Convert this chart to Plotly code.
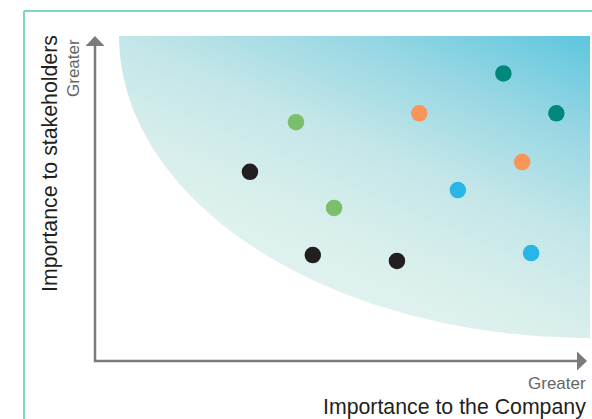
import numpy as np
import plotly.graph_objects as go

# Materiality matrix: importance to the company (x) vs importance to stakeholders (y), 0-10 scale
groups = ["Governance", "Customers", "Environment", "Operations", "Community"]
group_colors = ["#00897b", "#f7955b", "#7cbf6b", "#231f20", "#2ab5e8"]
company_scores = [
    [8.25, 9.32],
    [6.55, 8.63],
    [4.06, 4.83],
    [3.13, 4.40, 6.10],
    [7.33, 8.81],
]
stakeholder_scores = [
    [8.85, 7.62],
    [7.62, 6.12],
    [7.35, 4.71],
    [5.82, 3.26, 3.08],
    [5.26, 3.32],
]

axis_label_x = "Importance to the Company"
axis_label_y = "Importance to stakeholders"
axis_end_label = "Greater"

W, H = 592, 419
# axis scale: origin of the arrows is (0, 0); ranges chosen so the whole canvas is the plot area
XR = [-1.919, 10.040]
YR = [-1.785, 11.108]

# highlighted "material" zone: rectangle trimmed by a quarter ellipse centred on the top-right corner
zx0, zx1, zy0, zy1 = 0.485, 10.0, 0.708, 10.0
rx, ry = zx1 - zx0, zy1 - zy0

fig = go.Figure()

# diagonal gradient fill of the zone
nx, ny = 240, 152
xe = np.linspace(zx0, zx1, nx + 1)
ye = np.linspace(zy0, zy1, ny + 1)
xc = (xe[:-1] + xe[1:]) / 2
yc = (ye[:-1] + ye[1:]) / 2
U, V = np.meshgrid((xc - zx0) / rx, (yc - zy0) / ry)
T = 0.4 * U + 0.6 * V
fig.add_trace(go.Heatmap(
    x=xe, y=ye, z=T, zmin=0, zmax=1, zsmooth="best",
    colorscale=[[0, "#eff8f4"], [0.4, "#d9efec"], [0.6, "#c3e6e8"],
                [0.8, "#97d7e3"], [1, "#5ec6df"]],
    showscale=False, hoverinfo="skip",
))

# white mask outside the elliptical edge of the zone
th = np.linspace(np.pi, 1.5 * np.pi, 200)
ax_ = zx1 + rx * np.cos(th)
ay_ = zy1 + ry * np.sin(th)
mask_x = list(ax_) + [zx1 + 0.05, zx1 + 0.05, zx0 - 0.1, zx0 - 0.1]
mask_y = list(ay_) + [zy0, zy0 - 0.1, zy0 - 0.1, zy1 + 0.05]
fig.add_trace(go.Scatter(
    x=mask_x, y=mask_y, mode="lines", fill="toself", fillcolor="white",
    line=dict(width=0, color="white"), hoverinfo="skip", showlegend=False,
))

for name, col, xs, ys in zip(groups, group_colors, company_scores, stakeholder_scores):
    fig.add_trace(go.Scatter(
        x=xs, y=ys, mode="markers", name=name,
        marker=dict(size=16.5, color=col, line=dict(width=0)),
        showlegend=False,
    ))

axis_col = "#7b7b7b"
px_x = (XR[1] - XR[0]) / W
px_y = (YR[1] - YR[0]) / H
x_tip, y_tip = 10.0 - 3 * px_x, 10.0
head_len_x, head_half_x = 10 * px_x, 9.5 * px_y
head_len_y, head_half_y = 10 * px_y, 9.5 * px_x

shapes = [
    # frame
    dict(type="line", xref="paper", yref="paper", x0=24 / W, x1=1.01, y0=1 - 11 / H, y1=1 - 11 / H,
         line=dict(color="#7dd8b8", width=2)),
    dict(type="line", xref="paper", yref="paper", x0=24 / W, x1=24 / W, y0=1 - 11 / H, y1=-0.01,
         line=dict(color="#7dd8b8", width=2)),
    # axes
    dict(type="line", x0=0, x1=x_tip - head_len_x + px_x, y0=0, y1=0,
         line=dict(color=axis_col, width=2.5), layer="above"),
    dict(type="line", x0=0, x1=0, y0=0 - 1.2 * px_y, y1=y_tip - head_len_y + px_y,
         line=dict(color=axis_col, width=2.5), layer="above"),
    dict(type="path", layer="above", fillcolor=axis_col, line=dict(width=0),
         path=f"M {x_tip} 0 L {x_tip - head_len_x} {head_half_x} L {x_tip - head_len_x} {-head_half_x} Z"),
    dict(type="path", layer="above", fillcolor=axis_col, line=dict(width=0),
         path=f"M 0 {y_tip} L {head_half_y} {y_tip - head_len_y} L {-head_half_y} {y_tip - head_len_y} Z"),
]

font = "Liberation Sans, Arial, Helvetica, sans-serif"
annotations = [
    dict(xref="paper", yref="paper", x=588 / W, y=1 - 407 / H, text=axis_label_x,
         showarrow=False, xanchor="right", yanchor="middle",
         font=dict(family=font, size=21.3, color="#231f20")),
    dict(xref="paper", yref="paper", x=588 / W, y=1 - 383 / H, text=axis_end_label,
         showarrow=False, xanchor="right", yanchor="middle",
         font=dict(family=font, size=17, color="#666666")),
    dict(xref="paper", yref="paper", x=49.5 / W, y=1 - 33 / H, text=axis_label_y,
         showarrow=False, xanchor="center", yanchor="top", textangle=-90,
         font=dict(family=font, size=21.3, color="#231f20")),
    dict(xref="paper", yref="paper", x=74 / W, y=1 - 37 / H, text=axis_end_label,
         showarrow=False, xanchor="center", yanchor="top", textangle=-90,
         font=dict(family=font, size=17, color="#666666")),
]

fig.update_layout(
    width=W, height=H,
    margin=dict(l=0, r=0, t=0, b=0, pad=0),
    paper_bgcolor="white", plot_bgcolor="white",
    xaxis=dict(range=XR, visible=False, fixedrange=True),
    yaxis=dict(range=YR, visible=False, fixedrange=True),
    shapes=shapes, annotations=annotations,
    showlegend=False,
)

fig.write_html("out.html")
